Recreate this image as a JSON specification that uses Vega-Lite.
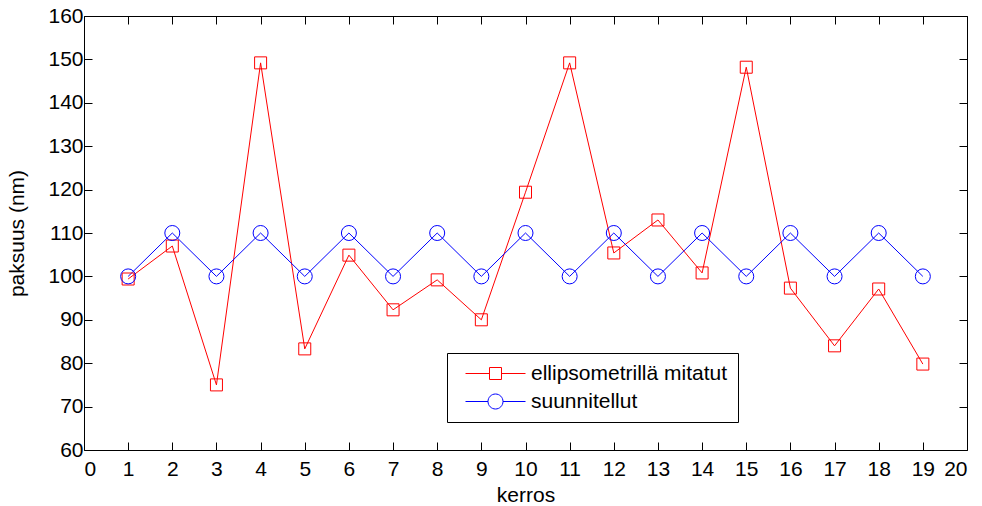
{
  "$schema": "https://vega.github.io/schema/vega-lite/v6.json",
  "width": 883,
  "height": 434,
  "autosize": {"type": "none"},
  "padding": {"left": 84, "top": 16, "right": 15, "bottom": 56},
  "background": "white",
  "config": {
    "view": {"stroke": null},
    "font": "Liberation Sans",
    "axis": {
      "domainColor": "black", "domainWidth": 1, "tickColor": "black", "tickWidth": 1,
      "tickSize": -8, "labelColor": "black", "labelFont": "Liberation Sans", "labelFontSize": 21,
      "titleFont": "Liberation Sans", "titleFontSize": 21, "titleFontWeight": "normal", "titleColor": "black", "grid": false
    }
  },
  "data": {"values": [
    {"kerros": 1, "paksuus": 99.4, "sarja": "ellipsometrillä mitatut"},
    {"kerros": 2, "paksuus": 107.0, "sarja": "ellipsometrillä mitatut"},
    {"kerros": 3, "paksuus": 75.0, "sarja": "ellipsometrillä mitatut"},
    {"kerros": 4, "paksuus": 149.2, "sarja": "ellipsometrillä mitatut"},
    {"kerros": 5, "paksuus": 83.3, "sarja": "ellipsometrillä mitatut"},
    {"kerros": 6, "paksuus": 104.9, "sarja": "ellipsometrillä mitatut"},
    {"kerros": 7, "paksuus": 92.3, "sarja": "ellipsometrillä mitatut"},
    {"kerros": 8, "paksuus": 99.2, "sarja": "ellipsometrillä mitatut"},
    {"kerros": 9, "paksuus": 90.0, "sarja": "ellipsometrillä mitatut"},
    {"kerros": 10, "paksuus": 119.4, "sarja": "ellipsometrillä mitatut"},
    {"kerros": 11, "paksuus": 149.2, "sarja": "ellipsometrillä mitatut"},
    {"kerros": 12, "paksuus": 105.4, "sarja": "ellipsometrillä mitatut"},
    {"kerros": 13, "paksuus": 113.0, "sarja": "ellipsometrillä mitatut"},
    {"kerros": 14, "paksuus": 100.8, "sarja": "ellipsometrillä mitatut"},
    {"kerros": 15, "paksuus": 148.2, "sarja": "ellipsometrillä mitatut"},
    {"kerros": 16, "paksuus": 97.3, "sarja": "ellipsometrillä mitatut"},
    {"kerros": 17, "paksuus": 84.0, "sarja": "ellipsometrillä mitatut"},
    {"kerros": 18, "paksuus": 97.1, "sarja": "ellipsometrillä mitatut"},
    {"kerros": 19, "paksuus": 79.8, "sarja": "ellipsometrillä mitatut"},
    {"kerros": 1, "paksuus": 100, "sarja": "suunnitellut"},
    {"kerros": 2, "paksuus": 110, "sarja": "suunnitellut"},
    {"kerros": 3, "paksuus": 100, "sarja": "suunnitellut"},
    {"kerros": 4, "paksuus": 110, "sarja": "suunnitellut"},
    {"kerros": 5, "paksuus": 100, "sarja": "suunnitellut"},
    {"kerros": 6, "paksuus": 110, "sarja": "suunnitellut"},
    {"kerros": 7, "paksuus": 100, "sarja": "suunnitellut"},
    {"kerros": 8, "paksuus": 110, "sarja": "suunnitellut"},
    {"kerros": 9, "paksuus": 100, "sarja": "suunnitellut"},
    {"kerros": 10, "paksuus": 110, "sarja": "suunnitellut"},
    {"kerros": 11, "paksuus": 100, "sarja": "suunnitellut"},
    {"kerros": 12, "paksuus": 110, "sarja": "suunnitellut"},
    {"kerros": 13, "paksuus": 100, "sarja": "suunnitellut"},
    {"kerros": 14, "paksuus": 110, "sarja": "suunnitellut"},
    {"kerros": 15, "paksuus": 100, "sarja": "suunnitellut"},
    {"kerros": 16, "paksuus": 110, "sarja": "suunnitellut"},
    {"kerros": 17, "paksuus": 100, "sarja": "suunnitellut"},
    {"kerros": 18, "paksuus": 110, "sarja": "suunnitellut"},
    {"kerros": 19, "paksuus": 100, "sarja": "suunnitellut"}
  ]},
  "layer": [
    {
      "mark": {"type": "line", "strokeWidth": 1},
      "encoding": {
        "x": {"field": "kerros", "type": "quantitative", "scale": {"domain": [0, 20], "nice": false},
              "axis": {"orient": "bottom", "values": [0,1,2,3,4,5,6,7,8,9,10,11,12,13,14,15,16,17,18,19,20], "title": "kerros", "labelPadding": 16, "titlePadding": 5}},
        "y": {"field": "paksuus", "type": "quantitative", "scale": {"domain": [60, 160], "nice": false, "zero": false},
              "axis": {"orient": "left", "values": [60,70,80,90,100,110,120,130,140,150,160], "title": "paksuus (nm)", "labelPadding": 9, "titlePadding": 20}},
        "color": {"field": "sarja", "type": "nominal",
                  "scale": {"domain": ["ellipsometrillä mitatut", "suunnitellut"], "range": ["#ff0000", "#0000ff"]},
                  "legend": {
                    "title": null, "orient": "none", "legendX": 363, "legendY": 337,
                    "strokeColor": "black", "fillColor": "white", "padding": 10,
                    "labelFontSize": 21, "labelFont": "Liberation Sans", "labelColor": "black", "labelLimit": 400,
                    "symbolSize": 144, "symbolStrokeWidth": 1, "symbolOffset": 28, "labelOffset": 25, "rowPadding": 6,
                    "symbolFillColor": "transparent",
                    "symbolType": {"expr": "datum.value === 'suunnitellut' ? 'M-5,0H-1.25M1.25,0H5M1.25,0A1.25,1.25 0 1,1 -1.25,0A1.25,1.25 0 1,1 1.25,0Z' : 'M-5,0H-1M1,0H5M-1,-1H1V1H-1Z'"},
                    "encode": {"symbols": {"update": {
                      "stroke": {"signal": "datum.value === 'suunnitellut' ? '#0000ff' : '#ff0000'"},
                      "opacity": {"value": 1}
                    }}}
                  }}
      }
    },
    {
      "transform": [{"filter": "datum.sarja === 'ellipsometrillä mitatut'"}],
      "mark": {"type": "point", "shape": "square", "size": 144, "filled": false, "strokeWidth": 1, "opacity": 1, "color": "#ff0000"},
      "encoding": {
        "x": {"field": "kerros", "type": "quantitative",
              "axis": {"orient": "top", "values": [0,1,2,3,4,5,6,7,8,9,10,11,12,13,14,15,16,17,18,19,20], "labels": false, "title": null}},
        "y": {"field": "paksuus", "type": "quantitative",
              "axis": {"orient": "right", "values": [60,70,80,90,100,110,120,130,140,150,160], "labels": false, "title": null}}
      }
    },
    {
      "transform": [{"filter": "datum.sarja === 'suunnitellut'"}],
      "mark": {"type": "point", "shape": "circle", "size": 225, "filled": false, "strokeWidth": 1, "opacity": 1, "color": "#0000ff"},
      "encoding": {
        "x": {"field": "kerros", "type": "quantitative", "axis": null},
        "y": {"field": "paksuus", "type": "quantitative", "axis": null}
      }
    }
  ],
  "resolve": {"axis": {"x": "independent", "y": "independent"}}
}
